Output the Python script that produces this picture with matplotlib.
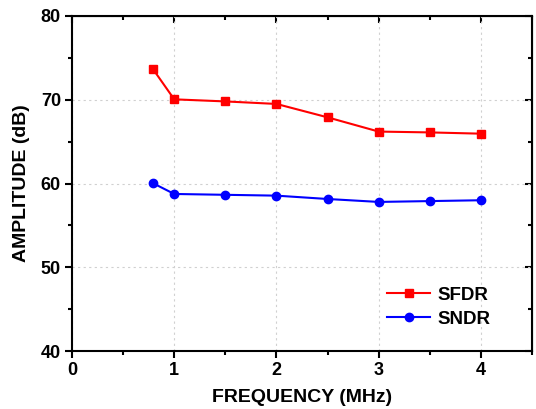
import numpy as np
import matplotlib
matplotlib.use("Agg")
import matplotlib.pyplot as plt
from matplotlib.ticker import MultipleLocator

# data
freq = [0.79, 1.0, 1.5, 2.0, 2.5, 3.0, 3.5, 4.0]
sfdr = [73.7, 70.05, 69.8, 69.5, 67.9, 66.2, 66.1, 65.95]
sndr = [60.05, 58.75, 58.65, 58.55, 58.15, 57.8, 57.9, 58.0]

plt.rcParams['font.family'] = ['Liberation Sans', 'DejaVu Sans']
plt.rcParams['font.weight'] = 'bold'

fig = plt.figure(figsize=(5.36, 4.09), dpi=100)
ax = fig.add_axes([72 / 536, 1 - 351 / 409, 460 / 536, 335 / 409])

ax.plot(freq, sfdr, color='red', marker='s', markersize=6, linewidth=1.5, label='SFDR')
ax.plot(freq, sndr, color='blue', marker='o', markersize=6, linewidth=1.5, label='SNDR')

ax.set_xlim(0, 4.5)
ax.set_ylim(40, 80)
ax.xaxis.set_major_locator(MultipleLocator(1))
ax.xaxis.set_minor_locator(MultipleLocator(0.5))
ax.yaxis.set_major_locator(MultipleLocator(10))
ax.yaxis.set_minor_locator(MultipleLocator(5))

ax.grid(True, which='major', color='#d0d0d0', linestyle=(0, (2, 3)), linewidth=0.8)

for s in ax.spines.values():
    s.set_linewidth(1.5)

ax.tick_params(axis='both', which='major', direction='out', length=5, width=1.5,
               labelsize=13, pad=3)
ax.tick_params(axis='both', which='minor', direction='out', length=3, width=1.5)
for lab in ax.get_xticklabels() + ax.get_yticklabels():
    lab.set_fontweight('bold')

# mirror ticks on top/right pointing inward
axt = ax.secondary_xaxis('top')
axt.xaxis.set_major_locator(MultipleLocator(1))
axt.xaxis.set_minor_locator(MultipleLocator(0.5))
axt.tick_params(which='major', direction='in', length=5, width=1.5, labeltop=False)
axt.tick_params(which='minor', direction='in', length=3, width=1.5)
axr = ax.secondary_yaxis('right')
axr.yaxis.set_major_locator(MultipleLocator(10))
axr.yaxis.set_minor_locator(MultipleLocator(5))
axr.tick_params(which='major', direction='in', length=5, width=1.5, labelright=False)
axr.tick_params(which='minor', direction='in', length=3, width=1.5)

ax.set_xlabel('FREQUENCY (MHz)', fontsize=14, fontweight='bold', labelpad=7)
ax.set_ylabel('AMPLITUDE (dB)', fontsize=14, fontweight='bold', labelpad=8)

leg = ax.legend(loc='center left', bbox_to_anchor=(0.685, 0.131), frameon=False,
                fontsize=13.5, handlelength=2.3, handletextpad=0.4, labelspacing=0.35,
                borderpad=0, borderaxespad=0)
for t in leg.get_texts():
    t.set_fontweight('bold')

fig.savefig('out.png', dpi=100)
